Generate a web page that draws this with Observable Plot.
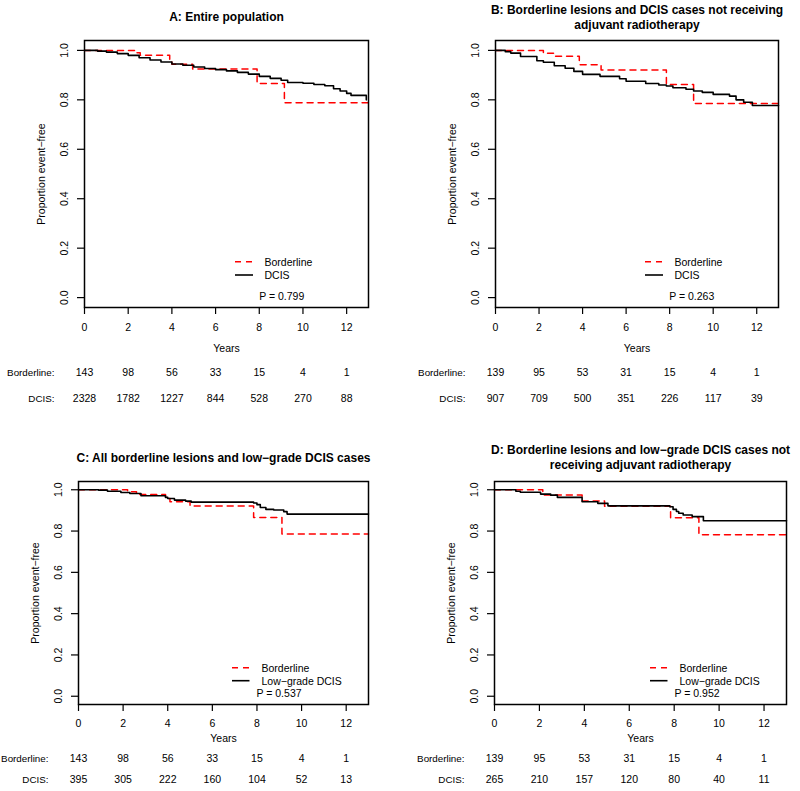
<!DOCTYPE html>
<html><head><meta charset="utf-8">
<script src="https://cdn.jsdelivr.net/npm/d3@7"></script>
<script src="https://cdn.jsdelivr.net/npm/@observablehq/plot@0.6"></script>
<style>
body{margin:0;background:#fff;}
#wrap{position:relative;width:800px;height:791px;font-family:"Liberation Sans",Arial,Helvetica,sans-serif;}
.panel{position:absolute;}
</style></head><body><div id="wrap"></div>
<script>
// ---------- data ----------
const yearTicks = [0, 2, 4, 6, 8, 10, 12];
const propTicks = [0, 0.2, 0.4, 0.6, 0.8, 1.0];

// Panel A
const aTitle = "A: Entire population";
const aBordT = [0, 2.35, 2.55, 3.9, 4.0, 4.95, 7.9, 9.15, 13];
const aBordS = [1, 0.99, 0.98, 0.962, 0.944, 0.925, 0.866, 0.788, 0.788];
const aDcisT = [0, 0.6, 1.0, 1.5, 2.0, 2.5, 3.0, 3.5, 4.0, 4.5, 5.0, 5.5, 6.0, 6.5, 7.0, 7.5, 8.0, 8.5, 9.0, 9.3, 10.0, 10.5, 11.0, 11.4, 11.7, 12.0, 12.2, 12.9];
const aDcisS = [1, 0.997, 0.993, 0.987, 0.98, 0.97, 0.961, 0.953, 0.945, 0.94, 0.933, 0.927, 0.922, 0.917, 0.911, 0.904, 0.895, 0.887, 0.879, 0.870, 0.867, 0.862, 0.857, 0.845, 0.836, 0.826, 0.818, 0.800];
const aRiskBord = [143, 98, 56, 33, 15, 4, 1];
const aRiskDcis = [2328, 1782, 1227, 844, 528, 270, 88];
const aLegend = ["Borderline", "DCIS"];
const aP = "P = 0.799";

// Panel B
const bTitle = "B: Borderline lesions and DCIS cases not receiving\nadjuvant radiotherapy";
const bBordT = [0, 2.2, 2.75, 3.85, 4.85, 7.85, 9.1, 13];
const bBordS = [1, 0.988, 0.976, 0.942, 0.921, 0.862, 0.785, 0.785];
const bDcisT = [0, 0.45, 0.7, 1.15, 1.9, 2.2, 2.7, 3.2, 3.6, 4.0, 4.8, 5.7, 6.0, 6.9, 7.5, 7.85, 8.15, 8.75, 9.1, 9.5, 10.0, 10.75, 11.05, 11.4, 11.8, 13];
const bDcisS = [1, 0.995, 0.989, 0.975, 0.958, 0.952, 0.938, 0.928, 0.915, 0.903, 0.895, 0.885, 0.875, 0.866, 0.86, 0.856, 0.849, 0.843, 0.836, 0.830, 0.822, 0.815, 0.800, 0.790, 0.777, 0.777];
const bRiskBord = [139, 95, 53, 31, 15, 4, 1];
const bRiskDcis = [907, 709, 500, 351, 226, 117, 39];
const bLegend = ["Borderline", "DCIS"];
const bP = "P = 0.263";

// Panel C
const cTitle = "C: All borderline lesions and low\u2212grade DCIS cases";
const cBordT = [0, 2.2, 2.6, 3.9, 4.1, 5.0, 7.85, 9.12, 13];
const cBordS = [1, 0.99, 0.977, 0.958, 0.942, 0.921, 0.866, 0.786, 0.786];
const cDcisT = [0, 0.9, 1.3, 1.9, 2.3, 2.8, 3.9, 4.0, 4.3, 4.8, 5.05, 7.85, 8.0, 8.15, 8.4, 8.75, 9.2, 9.35, 13];
const cDcisS = [1, 0.998, 0.993, 0.987, 0.982, 0.971, 0.963, 0.958, 0.950, 0.945, 0.940, 0.936, 0.928, 0.914, 0.905, 0.902, 0.894, 0.882, 0.882];
const cRiskBord = [143, 98, 56, 33, 15, 4, 1];
const cRiskDcis = [395, 305, 222, 160, 104, 52, 13];
const cLegend = ["Borderline", "Low\u2212grade DCIS"];
const cP = "P = 0.537";

// Panel D
const dTitle = "D: Borderline lesions and low\u2212grade DCIS cases not\nreceiving adjuvant radiotherapy";
const dBordT = [0, 2.15, 3.9, 4.9, 7.84, 9.1, 13];
const dBordS = [1, 0.975, 0.945, 0.920, 0.864, 0.782, 0.782];
const dDcisT = [0, 0.95, 1.15, 2.05, 2.5, 2.8, 3.9, 4.6, 5.05, 7.8, 7.95, 8.1, 8.2, 8.4, 8.8, 9.3, 13];
const dDcisS = [1, 0.993, 0.988, 0.979, 0.974, 0.963, 0.942, 0.934, 0.922, 0.918, 0.905, 0.895, 0.886, 0.878, 0.870, 0.850, 0.850];
const dRiskBord = [139, 95, 53, 31, 15, 4, 1];
const dRiskDcis = [265, 210, 157, 120, 80, 40, 11];
const dLegend = ["Borderline", "Low\u2212grade DCIS"];
const dP = "P = 0.952";

const yLabel = "Proportion event\u2212free";
const xLabel = "Years";
const riskLabels = ["Borderline:", "DCIS:"];

// ---------- layout ----------
const topLayout = {h: 405, mt: 40, mb: 98, tickPad: 9, yearsDy: 41, row1: 65, row2: 91,
  lg: {lx1: 133, lx2: 115, tx: 104, r1: 45.3, r2: 32, px: 109.3, py: 11.3}};
const botLayout = {h: 386, mt: 76, mb: 87, tickPad: 8, yearsDy: 34, row1: 54, row2: 75,
  lg: {lx1: 136, lx2: 118.5, tx: 107, r1: 36.3, r2: 23.3, px: 112, py: 10.7}};

const FONT = "'Liberation Sans', Arial, Helvetica, sans-serif";

function panel(p, L, ml, mr, titleDy) {
  const bord = p.bT.map((t, i) => ({t, s: p.bS[i]}));
  const dcis = p.dT.map((t, i) => ({t, s: p.dS[i]}));
  const rows = yearTicks.map((t, i) => ({t, b: String(p.rb[i]), d: String(p.rd[i])}));
  const lg = L.lg;
  return Plot.plot({
    width: 400, height: L.h,
    marginLeft: ml, marginRight: mr, marginTop: L.mt, marginBottom: L.mb,
    style: {fontFamily: FONT, fontSize: "10.5px", background: "transparent", overflow: "visible", color: "black"},
    x: {domain: [0, 13]},
    y: {domain: [-0.04, 1.04]},
    marks: [
      Plot.axisX({ticks: yearTicks, tickSize: 7, tickPadding: L.tickPad, tickFormat: d => String(d), label: null, strokeWidth: 1.2}),
      Plot.axisY({ticks: propTicks, tickSize: 7, tickRotate: -90, tickPadding: 10, tickFormat: d3.format(".1f"), label: null, strokeWidth: 1.2}),
      Plot.line(bord, {x: "t", y: "s", curve: "step-after", stroke: "red", strokeWidth: 1.5, strokeDasharray: "6,5"}),
      Plot.line(dcis, {x: "t", y: "s", curve: "step-after", stroke: "black", strokeWidth: 1.6}),
      Plot.frame({stroke: "black", strokeWidth: 1.5}),
      Plot.text([p.title], {frameAnchor: "top", dy: titleDy, fontWeight: "bold", fontSize: 12, textAnchor: "middle", lineAnchor: "middle", lineHeight: 1.25}),
      Plot.text([yLabel], {frameAnchor: "left", dx: -43, rotate: -90, textAnchor: "middle", lineAnchor: "middle"}),
      Plot.text([xLabel], {frameAnchor: "bottom", dy: L.yearsDy, textAnchor: "middle", lineAnchor: "middle"}),
      Plot.text(rows, {x: "t", text: "b", frameAnchor: "bottom", dy: L.row1, textAnchor: "middle", lineAnchor: "middle"}),
      Plot.text(rows, {x: "t", text: "d", frameAnchor: "bottom", dy: L.row2, textAnchor: "middle", lineAnchor: "middle"}),
      Plot.text([riskLabels[0]], {frameAnchor: "bottom-left", dx: -30, dy: L.row1, textAnchor: "end", lineAnchor: "middle", fontSize: 9.8}),
      Plot.text([riskLabels[1]], {frameAnchor: "bottom-left", dx: -30, dy: L.row2, textAnchor: "end", lineAnchor: "middle", fontSize: 9.8}),
      Plot.text([p.legend[0]], {frameAnchor: "bottom-right", dx: -lg.tx, dy: -lg.r1, textAnchor: "start", lineAnchor: "middle"}),
      Plot.text([p.legend[1]], {frameAnchor: "bottom-right", dx: -lg.tx, dy: -lg.r2, textAnchor: "start", lineAnchor: "middle"}),
      Plot.text([p.p], {frameAnchor: "bottom-right", dx: -lg.px, dy: -lg.py, textAnchor: "start", lineAnchor: "middle"}),
      (index, scales, values, dim) => {
        const right = dim.width - dim.marginRight, bottom = dim.height - dim.marginBottom;
        const g = d3.create("svg:g");
        g.append("line").attr("x1", right - lg.lx1).attr("x2", right - lg.lx2)
          .attr("y1", bottom - lg.r1).attr("y2", bottom - lg.r1)
          .attr("stroke", "red").attr("stroke-width", 1.5).attr("stroke-dasharray", "6,5");
        g.append("line").attr("x1", right - lg.lx1).attr("x2", right - lg.lx2)
          .attr("y1", bottom - lg.r2).attr("y2", bottom - lg.r2)
          .attr("stroke", "black").attr("stroke-width", 1.6);
        return g.node();
      }
    ]
  });
}

const panels = [
  {left: 0, top: 0, L: topLayout, ml: 84, mr: 32, titleDy: -24,
   p: {title: aTitle, bT: aBordT, bS: aBordS, dT: aDcisT, dS: aDcisS, rb: aRiskBord, rd: aRiskDcis, legend: aLegend, p: aP}},
  {left: 400, top: 0, L: topLayout, ml: 95, mr: 22, titleDy: -23.5,
   p: {title: bTitle, bT: bBordT, bS: bBordS, dT: bDcisT, dS: bDcisS, rb: bRiskBord, rd: bRiskDcis, legend: bLegend, p: bP}},
  {left: 0, top: 405, L: botLayout, ml: 78, mr: 32, titleDy: -24,
   p: {title: cTitle, bT: cBordT, bS: cBordS, dT: cDcisT, dS: cDcisS, rb: cRiskBord, rd: cRiskDcis, legend: cLegend, p: cP}},
  {left: 400, top: 405, L: botLayout, ml: 94, mr: 14, titleDy: -24.5,
   p: {title: dTitle, bT: dBordT, bS: dBordS, dT: dDcisT, dS: dDcisS, rb: dRiskBord, rd: dRiskDcis, legend: dLegend, p: dP}}
];

const wrap = document.getElementById("wrap");
for (const c of panels) {
  const div = document.createElement("div");
  div.className = "panel";
  div.style.left = c.left + "px";
  div.style.top = c.top + "px";
  div.appendChild(panel(c.p, c.L, c.ml, c.mr, c.titleDy));
  wrap.appendChild(div);
}
</script>
</body></html>
